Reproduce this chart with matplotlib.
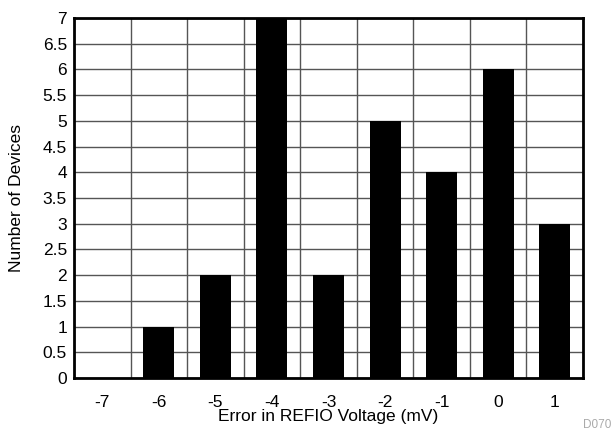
import matplotlib
matplotlib.use("Agg")
import matplotlib.pyplot as plt
import numpy as np

categories = ["-7", "-6", "-5", "-4", "-3", "-2", "-1", "0", "1"]
counts = [0, 1, 2, 7, 2, 5, 4, 6, 3]
yticks = [0, 0.5, 1, 1.5, 2, 2.5, 3, 3.5, 4, 4.5, 5, 5.5, 6, 6.5, 7]

plt.rcParams['font.family'] = ['Liberation Sans', 'DejaVu Sans']
fig = plt.figure(figsize=(6.13, 4.34), dpi=100)
ax = fig.add_axes([74/613, 1-378/434, (583-74)/613, (378-18)/434])

x = np.arange(len(categories))
ax.bar(x, counts, width=0.55, color='black', zorder=3)
ax.set_xlim(-0.5, len(categories)-0.5)
ax.set_ylim(0, 7)
ax.set_xticks(x)
ax.set_xticklabels(categories)
ax.set_xticks(np.arange(-0.5, len(categories)), minor=True)
ax.set_yticks(yticks)
ax.set_yticklabels([f"{v:g}" for v in yticks])
ax.grid(which='minor', axis='x', color='#555555', linewidth=1, zorder=1)
ax.grid(which='major', axis='y', color='#555555', linewidth=1, zorder=1)
ax.tick_params(which='both', length=0, labelsize=12.5)
ax.tick_params(axis='x', which='major', pad=12)
ax.tick_params(axis='y', which='major', pad=5)
for s in ax.spines.values():
    s.set_linewidth(2)
    s.set_zorder(4)
ax.set_xlabel("Error in REFIO Voltage (mV)", fontsize=12.5)
ax.set_ylabel("Number of Devices", fontsize=12.5)
ax.xaxis.set_label_coords(0.5, -0.085)
ax.yaxis.set_label_coords(-0.099, 0.5)
fig.text(0.997, 0.008, "D070", ha='right', va='bottom', fontsize=8.5, color='#aaaaaa')
fig.savefig("out.png", dpi=100)
